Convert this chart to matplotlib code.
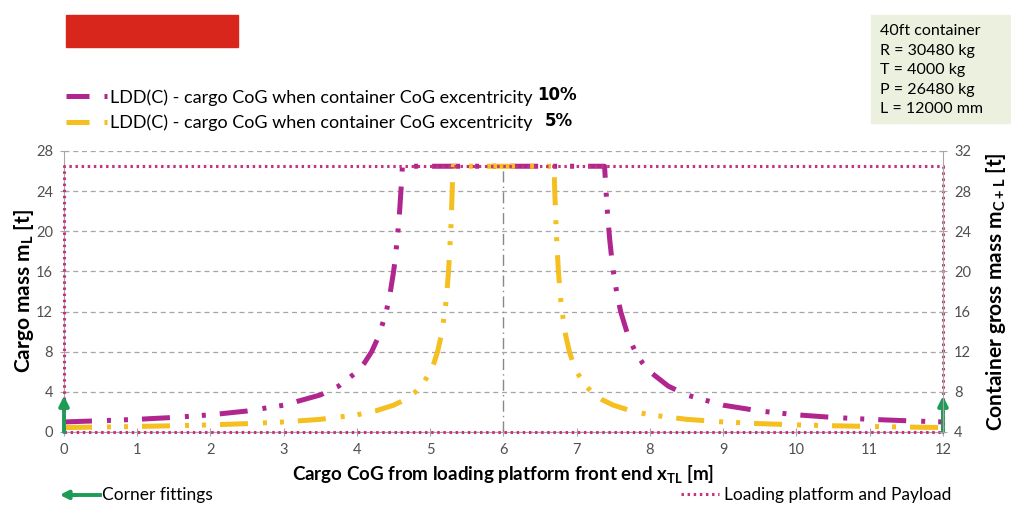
import matplotlib.pyplot as plt
import numpy as np
from matplotlib.patches import Rectangle
from matplotlib.lines import Line2D

plt.rcParams['font.family'] = ['Lato', 'DejaVu Sans']
plt.rcParams['mathtext.fontset'] = 'custom'
plt.rcParams['mathtext.rm'] = 'Lato'
plt.rcParams['mathtext.bf'] = 'Lato:bold'

# LDD(C) curve, 10 % excentricity
x_10 = [0, 0.5, 1, 1.5, 2, 2.5, 3, 3.5, 3.75, 4, 4.1, 4.2, 4.3, 4.4, 4.45, 4.5, 4.52, 4.55,
        4.58, 4.6, 4.62,
        7.38, 7.4, 7.42, 7.45, 7.48, 7.5, 7.55, 7.6, 7.7, 7.8, 7.9, 8, 8.25, 8.5, 9, 9.5,
        10, 10.5, 11, 11.5, 12]
m_10 = [1.0, 1.12, 1.26, 1.45, 1.71, 2.09, 2.67, 3.69, 4.57, 6.0, 6.86, 8.0, 9.6, 12.0,
        13.71, 16.0, 17.14, 19.2, 21.8, 24.0, 26.48,
        26.48, 24.0, 21.8, 19.2, 17.14, 16.0, 13.71, 12.0, 9.6, 8.0, 6.86, 6.0, 4.57, 3.69,
        2.67, 2.09, 1.71, 1.45, 1.26, 1.12, 1.0]

# LDD(C) curve, 5 % excentricity
x_5 = [0, 0.5, 1, 1.5, 2, 2.5, 3, 3.5, 4, 4.25, 4.5, 4.65, 4.8, 4.9, 5.0, 5.05, 5.1, 5.15,
       5.2, 5.22, 5.25, 5.28, 5.3, 5.31,
       6.69, 6.7, 6.72, 6.75, 6.78, 6.8, 6.85, 6.9, 6.95, 7.0, 7.1, 7.2, 7.35, 7.5, 7.75, 8,
       8.5, 9, 9.5, 10, 10.5, 11, 11.5, 12]
m_5 = [0.44, 0.49, 0.55, 0.62, 0.71, 0.83, 1.0, 1.26, 1.71, 2.09, 2.67, 3.2, 4.0, 4.8, 6.0,
       6.86, 8.0, 9.6, 12.0, 13.3, 16.0, 20.0, 24.0, 26.48,
       26.48, 24.0, 20.0, 16.0, 13.3, 12.0, 9.6, 8.0, 6.86, 6.0, 4.8, 4.0, 3.2, 2.67, 2.09,
       1.71, 1.26, 1.0, 0.83, 0.71, 0.62, 0.55, 0.49, 0.44]

# loading platform / payload outline
L = 12.0
P = 26.48
T = 4.0
arrow_h = 3.6

magenta = '#B0268E'
yellow = '#F4BF1F'
pink = '#C8327C'
green = '#1E9B57'
grey = '#A6A6A6'
curve_ls = (0, (5.6, 3, 0.8, 2.6, 0.8, 2.8))
legend_ls = (1.0, (5.6, 3, 0.8, 2.6, 0.8, 2.8))
leg_label = 'LDD(C) - cargo CoG when container CoG excentricity'

fig = plt.figure(figsize=(10.11, 5.05), dpi=100)
ax = fig.add_axes([0.0633, 0.1446, 0.8694, 0.5564])

ax.set_xlim(0, L)
ax.set_ylim(0, 28)
ax.set_xticks(np.arange(0, 13, 1))
ax.set_yticks(np.arange(0, 29, 4))
ax.yaxis.grid(True, color=grey, ls=(0, (4, 3)), lw=0.9)
ax.set_axisbelow(True)

for s in ['top', 'right']:
    ax.spines[s].set_visible(False)
for s in ['left', 'bottom']:
    ax.spines[s].set_color(grey)
ax.tick_params(colors=grey, labelcolor='#505050', labelsize=10.5, direction='inout',
               length=6, pad=5)

# centre line
ax.plot([L / 2, L / 2], [0, P], color='#888888', lw=1, ls=(0, (8, 3, 1, 3)))

# platform outline
outline, = ax.plot([0, L, L, 0, 0], [0, 0, P, P, 0], color=pink, lw=2.2, zorder=4,
                   ls=(0, (0.8, 1.2)), clip_on=False, label='Loading platform and Payload')

ax.plot(x_10, m_10, color=magenta, lw=3.6, ls=curve_ls)
ax.plot(x_5, m_5, color=yellow, lw=3.6, ls=curve_ls)

# corner fitting arrows
for xa in [0, L]:
    ax.annotate('', xy=(xa, arrow_h), xytext=(xa, 0), annotation_clip=False,
                arrowprops=dict(arrowstyle='-|>', color=green, lw=2.8, mutation_scale=14,
                                shrinkA=0, shrinkB=0), zorder=5)

ax.set_xlabel(r'Cargo CoG from loading platform front end x$_{\mathbf{TL}}$ [m]',
              fontsize=13.5, fontweight='bold', labelpad=5)
ax.set_ylabel(r'Cargo mass m$_{\mathbf{L}}$ [t]', fontsize=15, fontweight='bold', labelpad=0)

ax2 = ax.twinx()
ax2.set_ylim(T, 28 + T)
ax2.set_yticks(np.arange(4, 33, 4))
for s in ['top', 'left', 'bottom']:
    ax2.spines[s].set_visible(False)
ax2.spines['right'].set_color(grey)
ax2.tick_params(colors=grey, labelcolor='#505050', labelsize=10.5, direction='inout',
                length=6, pad=5)
ax2.set_ylabel(r'Container gross mass m$_{\mathbf{C+L}}$ [t]', fontsize=15,
               fontweight='bold', labelpad=9)

# top legend
h10 = Line2D([], [], color=magenta, lw=3.6, ls=legend_ls)
h5 = Line2D([], [], color=yellow, lw=3.6, ls=legend_ls)
fig.legend(handles=[h10, h5], labels=[leg_label, leg_label], loc='upper left',
           bbox_to_anchor=(0.058, 0.838), frameon=False, fontsize=13, handlelength=2.3,
           handletextpad=0.15, labelspacing=0.5, borderaxespad=0)
fig.text(0.531, 0.812, '10%', fontsize=12, fontweight='bold', family='DejaVu Sans',
         va='center')
fig.text(0.539, 0.760, '5%', fontsize=12, fontweight='bold', family='DejaVu Sans',
         va='center')

# bottom legend
fig.legend(handles=[outline], loc='center right', bbox_to_anchor=(0.948, 0.02),
           frameon=False, fontsize=12.5, handlelength=2.2, handletextpad=0.3,
           borderaxespad=0)
fig.text(0.101, 0.02, 'Corner fittings', fontsize=12.5, va='center')
fig.add_artist(plt.Line2D([0.07, 0.099], [0.02, 0.02], color=green, lw=2.8))
ax.annotate('', xy=(0.059, 0.02), xytext=(0.075, 0.02), xycoords='figure fraction',
            arrowprops=dict(arrowstyle='-|>', color=green, lw=2.8, mutation_scale=12,
                            shrinkA=0, shrinkB=0))

# redaction block
fig.add_artist(Rectangle((0.065, 0.907), 0.17, 0.063, transform=fig.transFigure,
                         color='#D8261C'))

# info box
fig.add_artist(Rectangle((0.862, 0.756), 0.14, 0.215, transform=fig.transFigure,
                         color='#EBF0DF'))
fig.text(0.870, 0.952, '40ft container\nR = 30480 kg\nT = 4000 kg\nP = 26480 kg\nL = 12000 mm',
         fontsize=11.5, va='top', linespacing=1.5)

fig.savefig('out.png', dpi=100)
